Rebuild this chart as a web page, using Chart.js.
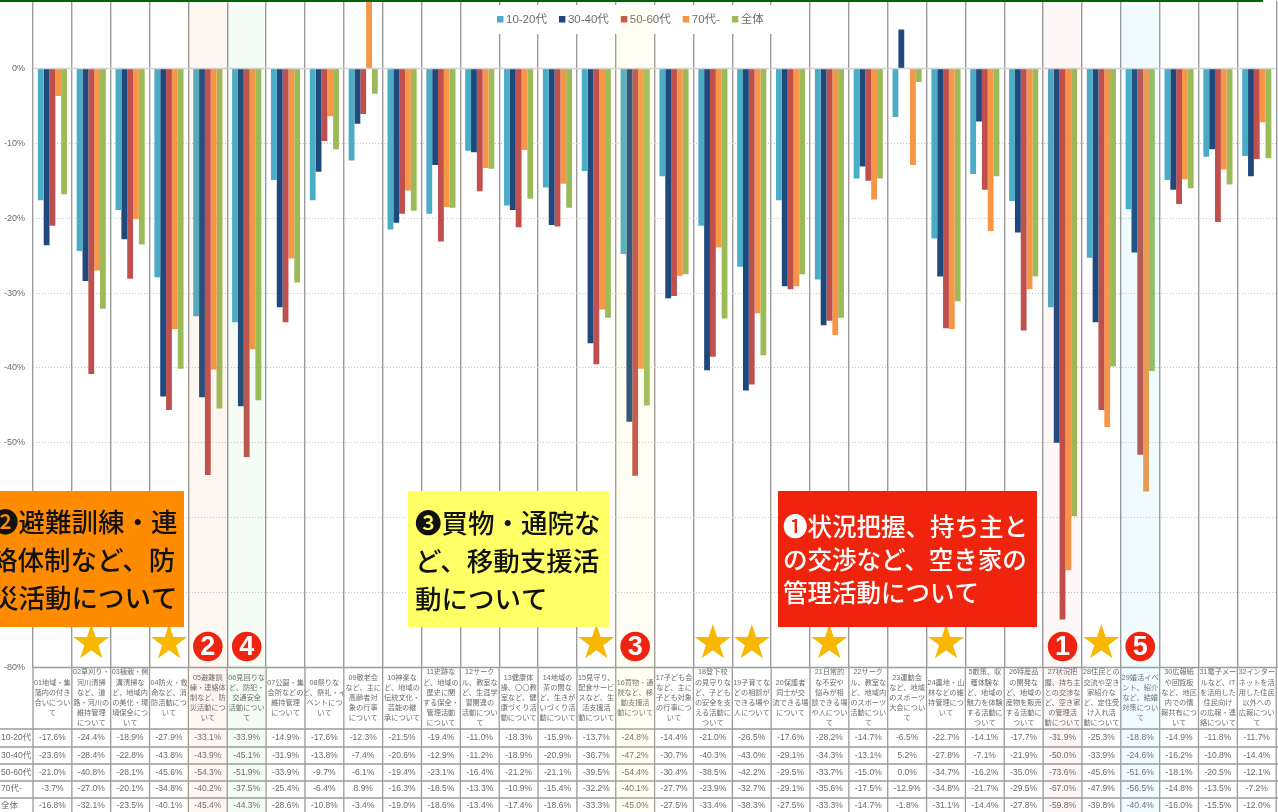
<!DOCTYPE html>
<html lang="ja">
<head>
<meta charset="utf-8">
<title>活動の評価</title>
<script src="https://cdn.jsdelivr.net/npm/chart.js@4"></script>
<style>
    html, body { margin: 0; padding: 0; background: #fff; overflow: hidden; }
    canvas { display: block; }
</style>
</head>
<body>
<canvas id="chart" width="1278" height="812"></canvas>
<script>
// Values as printed in the data table under the chart
var categories = [
    ["01地域・集", "落内の付き", "合いについ", "て"],
    ["02草刈り・", "河川清掃", "など、道", "路・河川の", "維持管理", "について"],
    ["03植栽・側", "溝清掃な", "ど、地域内", "の美化・環", "境保全につ", "いて"],
    ["04防火・救", "命など、消", "防活動につ", "いて"],
    ["05避難訓", "練・連絡体", "制など、防", "災活動につ", "いて"],
    ["06見回りな", "ど、防犯・", "交通安全", "活動につい", "て"],
    ["07公園・集", "会所などの", "維持管理", "について"],
    ["08祭りな", "ど、祭礼・イ", "ベントにつ", "いて"],
    ["09敬老会", "など、主に", "高齢者対", "象の行事", "について"],
    ["10神楽な", "ど、地域の", "伝統文化・", "芸能の継", "承について"],
    ["11史跡な", "ど、地域の", "歴史に関", "する保全・", "管理活動", "について"],
    ["12サーク", "ル、教室な", "ど、生涯学", "習関連の", "活動につい", "て"],
    ["13健康体", "操、〇〇教", "室など、健", "康づくり活", "動について"],
    ["14地域の", "茶の間な", "ど、生きが", "いづくり活", "動について"],
    ["15見守り、", "配食サービ", "スなど、生", "活支援活", "動について"],
    ["16買物・通", "院など、移", "動支援活", "動について"],
    ["17子ども会", "など、主に", "子ども対象", "の行事につ", "いて"],
    ["18登下校", "の見守りな", "ど、子ども", "の安全を支", "える活動に", "ついて"],
    ["19子育てな", "どの相談が", "できる場や", "人について"],
    ["20保護者", "同士が交", "流できる場", "について"],
    ["21日常的", "な不安や", "悩みが相", "談できる場", "や人につい", "て"],
    ["22サーク", "ル、教室な", "ど、地域内", "のスポーツ", "活動につい", "て"],
    ["23運動会", "など、地域", "のスポーツ", "大会につい", "て"],
    ["24農地・山", "林などの維", "持管理につ", "いて"],
    ["5散策、収", "穫体験な", "ど、地域の", "魅力を体験", "する活動に", "ついて"],
    ["26特産品", "の開発な", "ど、地域の", "産物を販売", "する活動に", "ついて"],
    ["27状況把", "握、持ち主", "との交渉な", "ど、空き家", "の管理活", "動について"],
    ["28住民との", "交流や空き", "家紹介な", "ど、定住受", "け入れ活", "動について"],
    ["29婚活イベ", "ント、紹介", "など、結婚", "対策につい", "て"],
    ["30広報紙", "や回覧板", "など、地区", "内での情", "報共有につ", "いて"],
    ["31電子メー", "ルなど、IT", "を活用した", "住民向け", "の広報・連", "絡について"],
    ["32インター", "ネットを活", "用した住民", "以外への", "広報につい", "て"]
];

var age1020 = [-17.6, -24.4, -18.9, -27.9, -33.1, -33.9, -14.9, -17.6, -12.3, -21.5, -19.4, -11.0, -18.3, -15.9, -13.7, -24.8, -14.4, -21.0, -26.5, -17.6, -28.2, -14.7, -6.5, -22.7, -14.1, -17.7, -31.9, -25.3, -18.8, -14.9, -11.8, -11.7];
var age3040 = [-23.6, -28.4, -22.8, -43.8, -43.9, -45.1, -31.9, -13.8, -7.4, -20.6, -12.9, -11.2, -18.9, -20.9, -36.7, -47.2, -30.7, -40.3, -43.0, -29.1, -34.3, -13.1, 5.2, -27.8, -7.1, -21.9, -50.0, -33.9, -24.6, -16.2, -10.8, -14.4];
var age5060 = [-21.0, -40.8, -28.1, -45.6, -54.3, -51.9, -33.9, -9.7, -6.1, -19.4, -23.1, -16.4, -21.2, -21.1, -39.5, -54.4, -30.4, -38.5, -42.2, -29.5, -33.7, -15.0, 0.0, -34.7, -16.2, -35.0, -73.6, -45.6, -51.6, -18.1, -20.5, -12.1];
var age70 = [-3.7, -27.0, -20.1, -34.8, -40.2, -37.5, -25.4, -6.4, 8.9, -16.3, -18.5, -13.3, -10.9, -15.4, -32.2, -40.1, -27.7, -23.9, -32.7, -29.1, -35.6, -17.5, -12.9, -34.8, -21.7, -29.5, -67.0, -47.9, -56.5, -14.8, -13.5, -7.2];
var ageAll = [-16.8, -32.1, -23.5, -40.1, -45.4, -44.3, -28.6, -10.8, -3.4, -19.0, -18.6, -13.4, -17.4, -18.6, -33.3, -45.0, -27.5, -33.4, -38.3, -27.5, -33.3, -14.7, -1.8, -31.1, -14.4, -27.8, -59.8, -39.8, -40.4, -16.0, -15.5, -12.0];

var seriesLabels = ["10-20代", "30-40代", "50-60代", "70代-", "全体"];
var seriesValues = [age1020, age3040, age5060, age70, ageAll];
var seriesColors = ["#4bacc6", "#1f497d", "#c0504d", "#f79646", "#9bbb59"];
var yTicks = [0, -10, -20, -30, -40, -50, -60, -70, -80];

// Columns (1-based) that get a star or a numbered red circle
var starColumns = [2, 4, 15, 18, 19, 21, 24, 28];
var rankColumns = [27, 5, 16, 6, 29];
var rankBands = ["rgba(225,60,40,0.04)", "rgba(247,130,40,0.07)", "rgba(240,240,120,0.09)", "rgba(90,190,90,0.06)", "rgba(70,220,230,0.08)"];

var callouts = [
    { x: 0, y: 491, w: 184, h: 136, fill: "#ff8c00", color: "#111", size: 26.5, firstY: 522, step: 38,
      lines: ["❷避難訓練・連", "絡体制など、防", "災活動について"], starts: [-8, -9, -8] },
    { x: 408, y: 491, w: 201, h: 136, fill: "#ffff66", color: "#111", size: 26.5, firstY: 523, step: 38,
      lines: ["❸買物・通院な", "ど、移動支援活", "動について"], starts: [415, 415, 415] },
    { x: 778, y: 491, w: 259, h: 136, fill: "#f0230c", color: "#fff", size: 24.5, firstY: 527, step: 33,
      lines: ["❶状況把握、持ち主と", "の交渉など、空き家の", "管理活動について"], starts: [783, 783, 783] }
];

var FONT = "'Liberation Sans', 'Noto Sans CJK JP', sans-serif";
var TEXT_GRAY = "#6b6b6b";
var LINE_GRAY = "#9c9c9c";
var rowLines = [729, 747, 764, 781, 798];
var rowTextY = [738, 755.5, 772.5, 789, 805.5];

function columnEdge(xScale, index) {
    // left edge of a column, half a step before its centre
    var step = xScale.getPixelForValue(1) - xScale.getPixelForValue(0);
    return xScale.getPixelForValue(index) - step / 2;
}

var tablePlugin = {
    id: "dataTable",
    afterDatasetsDraw: function (chart) {
        var ctx = chart.ctx;
        var xs = chart.scales.x;
        var ys = chart.scales.y;
        var i, j;

        ctx.save();

        // zero line is solid, the other gridlines are dotted
        ctx.strokeStyle = "#d4d4d4";
        ctx.lineWidth = 1.5;
        ctx.beginPath();
        ctx.moveTo(xs.left, ys.getPixelForValue(0));
        ctx.lineTo(xs.right, ys.getPixelForValue(0));
        ctx.stroke();

        // table rules, the header row starts right of the axis labels
        ctx.strokeStyle = LINE_GRAY;
        ctx.lineWidth = 1.3;
        ctx.beginPath();
        ctx.moveTo(xs.left, ys.bottom);
        ctx.lineTo(1278, ys.bottom);
        rowLines.forEach(function (y) {
            ctx.moveTo(0, y);
            ctx.lineTo(1278, y);
        });
        for (i = 0; i <= categories.length; i++) {
            ctx.moveTo(columnEdge(xs, i), ys.bottom);
            ctx.lineTo(columnEdge(xs, i), 812);
        }
        ctx.stroke();

        // table text
        ctx.fillStyle = TEXT_GRAY;
        ctx.textBaseline = "middle";
        ctx.font = "8.5px " + FONT;
        seriesLabels.forEach(function (label, row) {
            ctx.textAlign = "left";
            ctx.fillText(label, 1, rowTextY[row]);
            ctx.textAlign = "center";
            for (j = 0; j < categories.length; j++) {
                ctx.fillText(seriesValues[row][j].toFixed(1) + "%", xs.getPixelForValue(j), rowTextY[row]);
            }
        });

        // legend on its own white patch
        ctx.fillStyle = "#fff";
        ctx.fillRect(495, 5, 279, 29);
        ctx.font = "11.5px " + FONT;
        ctx.textAlign = "left";
        var legendX = 497;
        chart.data.datasets.forEach(function (ds) {
            ctx.fillStyle = ds.backgroundColor;
            ctx.fillRect(legendX, 16, 6.5, 6.5);
            legendX += 9;
            ctx.fillStyle = TEXT_GRAY;
            ctx.fillText(ds.label, legendX, 19.5);
            legendX += ctx.measureText(ds.label).width + 12;
        });

        // highlighted columns tint everything under them
        rankColumns.forEach(function (col, n) {
            var left = columnEdge(xs, col - 1);
            ctx.fillStyle = rankBands[n];
            ctx.fillRect(left, 5, columnEdge(xs, col) - left, 807);
        });

        // stars and numbered circles above the table
        ctx.textAlign = "center";
        ctx.fillStyle = "#f9b800";
        ctx.font = "47px 'DejaVu Sans'";
        starColumns.forEach(function (col) {
            ctx.fillText("★", xs.getPixelForValue(col - 1), 646);
        });
        rankColumns.forEach(function (col, n) {
            var cx = xs.getPixelForValue(col - 1);
            ctx.fillStyle = "#ee2410";
            ctx.beginPath();
            ctx.arc(cx, 646.5, 14.8, 0, Math.PI * 2);
            ctx.fill();
            ctx.fillStyle = "#fff";
            ctx.font = "bold 27px " + FONT;
            ctx.fillText(String(n + 1), cx, 647.5);
        });

        // callout boxes
        callouts.forEach(function (box) {
            ctx.fillStyle = box.fill;
            ctx.fillRect(box.x, box.y, box.w, box.h);
            ctx.fillStyle = box.color;
            ctx.textAlign = "left";
            ctx.font = "500 " + box.size + "px 'Noto Sans CJK JP'";
            box.lines.forEach(function (line, k) {
                ctx.fillText(line, box.starts[k], box.firstY + k * box.step);
            });
        });

        // dark green rule along the top
        ctx.fillStyle = "#006400";
        ctx.fillRect(0, 0, 1263, 2);

        ctx.restore();
    }
};

new Chart(document.getElementById("chart"), {
    type: "bar",
    data: {
        labels: categories,
        datasets: seriesLabels.map(function (label, i) {
            return {
                label: label,
                data: seriesValues[i],
                backgroundColor: seriesColors[i],
                borderWidth: 0,
                categoryPercentage: 0.75,
                barPercentage: 1
            };
        })
    },
    options: {
        responsive: false,
        animation: false,
        layout: { padding: { top: 1, bottom: 83.5, left: 0, right: 1.8 } },
        plugins: {
            legend: { display: false },
            tooltip: { enabled: false }
        },
        scales: {
            x: {
                afterFit: function (axis) {
                    axis.height = 61;
                    axis.paddingLeft = 0;
                    axis.paddingRight = 0;
                },
                border: { display: false },
                grid: { color: LINE_GRAY, lineWidth: 1.4, offset: true, drawTicks: false },
                ticks: {
                    autoSkip: false,
                    maxRotation: 0,
                    minRotation: 0,
                    padding: 5,
                    crossAlign: "center",
                    color: TEXT_GRAY,
                    font: { family: FONT, size: 7.2, lineHeight: "10.1px" }
                }
            },
            y: {
                min: -80,
                max: 9,
                afterFit: function (axis) {
                    axis.width = 33;
                    axis.paddingTop = 0;
                    axis.paddingBottom = 0;
                },
                afterBuildTicks: function (axis) {
                    axis.ticks = yTicks.map(function (v) { return { value: v }; });
                },
                border: { display: false, dash: [1, 2] },
                grid: { color: "#c4c4c4", lineWidth: 1, drawTicks: false },
                ticks: {
                    padding: 8,
                    color: TEXT_GRAY,
                    font: { family: FONT, size: 9 },
                    callback: function (value) { return value + "%"; }
                }
            }
        }
    },
    plugins: [tablePlugin]
});
</script>
</body>
</html>
